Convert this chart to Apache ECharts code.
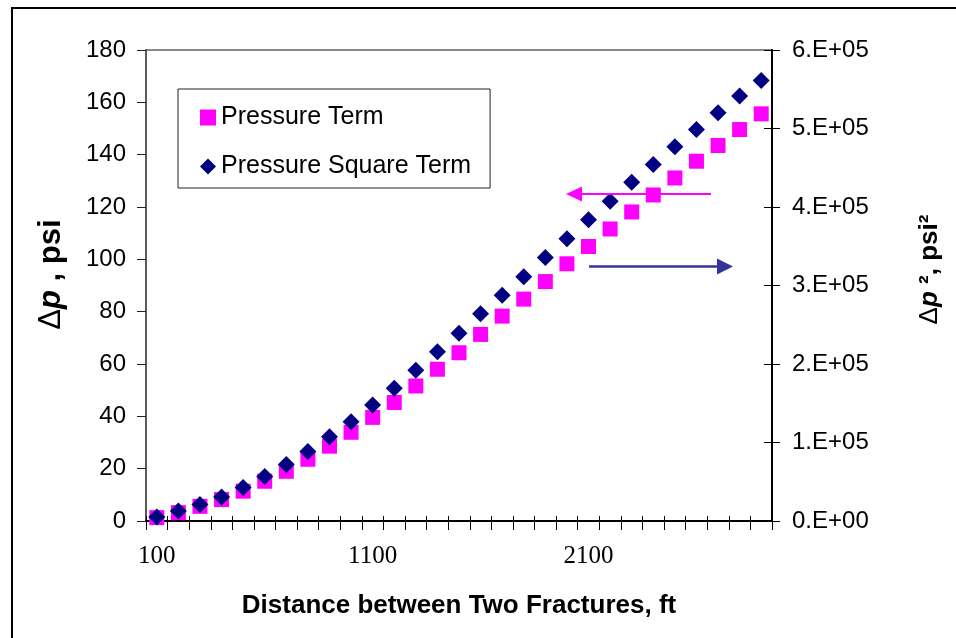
<!DOCTYPE html>
<html>
<head>
<meta charset="utf-8">
<script src="https://cdn.jsdelivr.net/npm/echarts@6/dist/echarts.min.js"></script>
<style>
  html, body { margin: 0; padding: 0; background: #fff; }
  #chart { width: 956px; height: 638px; }
</style>
</head>
<body>
<div id="chart"></div>
<script>
// Distance between the two fractures, ft (category axis)
const distances = [100, 200, 300, 400, 500, 600, 700, 800, 900, 1000,
                   1100, 1200, 1300, 1400, 1500, 1600, 1700, 1800, 1900, 2000,
                   2100, 2200, 2300, 2400, 2500, 2600, 2700, 2800, 2900];

// Δp, psi (left axis)
const pressureTerm = [1.3, 3.2, 5.6, 8.2, 11.4, 15.2, 19.0, 23.6, 28.6, 33.9,
                      39.6, 45.3, 51.6, 58.0, 64.3, 71.3, 78.3, 84.8, 91.5, 98.3,
                      104.9, 111.6, 118.1, 124.6, 131.1, 137.5, 143.5, 149.6, 155.6];

// Δp², psi² (right axis)
const pressureSquareTerm = [5100, 12800, 20900, 30600, 42600, 56700, 72000, 88600, 107200, 126400,
                            147700, 169000, 192000, 215700, 239200, 263900, 287700, 311100, 335700, 359600,
                            383900, 407200, 431500, 454100, 476700, 498800, 520100, 541300, 561300];

const seriesNames = ['Pressure Term', 'Pressure Square Term'];

const SANS = 'Liberation Sans';
const SERIF = 'Liberation Serif';

// Excel-style scientific labels: 0.E+00, 1.E+05 ...
function sciLabel(v) {
  if (v === 0) return '0.E+00';
  const exp = Math.floor(Math.log10(Math.abs(v)));
  const mant = Math.round(v / Math.pow(10, exp));
  return mant + '.E+' + String(exp).padStart(2, '0');
}

const chart = echarts.init(document.getElementById('chart'), null, { renderer: 'canvas' });

const gridBox = { left: 146, right: 184, top: 50, bottom: 117 };

chart.setOption({
  animation: false,
  backgroundColor: '#fff',
  grid: {
    left: gridBox.left, right: gridBox.right, top: gridBox.top, bottom: gridBox.bottom,
    show: true, borderColor: '#8a8a8a', borderWidth: 2, backgroundColor: 'transparent'
  },
  legend: {
    data: [
      { name: seriesNames[0], icon: 'rect' },
      { name: seriesNames[1], icon: 'diamond' }
    ],
    orient: 'vertical',
    left: 178, top: 89,
    padding: [16, 19, 9, 22],
    itemGap: 24,
    itemWidth: 16, itemHeight: 16,
    borderColor: '#222', borderWidth: 1,
    backgroundColor: '#fff',
    textStyle: { fontFamily: SANS, fontSize: 25, color: '#000' }
  },
  xAxis: [
    {
      type: 'category',
      data: distances,
      boundaryGap: true,
      position: 'bottom',
      name: 'Distance between Two Fractures, ft',
      nameLocation: 'middle',
      nameGap: 72,
      nameTextStyle: { fontFamily: SANS, fontSize: 26, fontWeight: 'bold', color: '#000' },
      axisLine: { show: true, lineStyle: { color: '#000', width: 2 } },
      axisTick: { show: true, interval: 0, length: 9, lineStyle: { color: '#000', width: 1 } },
      axisLabel: { interval: 9, margin: 23, fontFamily: SERIF, fontSize: 25, color: '#000' },
      splitLine: { show: false }
    },
    {
      // inner half of the crossing tick marks
      type: 'category',
      data: distances,
      boundaryGap: true,
      position: 'bottom',
      axisLine: { show: false },
      axisTick: { show: true, inside: true, interval: 0, length: 5, lineStyle: { color: '#000', width: 1 } },
      axisLabel: { show: false },
      splitLine: { show: false }
    }
  ],
  yAxis: [
    {
      type: 'value',
      position: 'left',
      min: 0, max: 180, interval: 20,
      name: '{d|Δ}{p|p}{b| , psi}',
      nameLocation: 'middle',
      nameRotate: 90,
      nameGap: 79,
      nameTextStyle: {
        fontFamily: SANS, fontSize: 31, color: '#000',
        padding: [0, 0, 0, 22],
        rich: {
          d: { fontFamily: SANS, fontSize: 31, fontWeight: 'normal', color: '#000' },
          p: { fontFamily: SANS, fontSize: 31, fontWeight: 'bold', fontStyle: 'italic', color: '#000' },
          b: { fontFamily: SANS, fontSize: 31, fontWeight: 'bold', color: '#000' }
        }
      },
      axisLine: { show: true, lineStyle: { color: '#5a5a5a', width: 2 } },
      axisTick: { show: true, length: 9, lineStyle: { color: '#222', width: 1 } },
      axisLabel: { margin: 20, fontFamily: SANS, fontSize: 24, color: '#000' },
      splitLine: { show: false }
    },
    {
      type: 'value',
      position: 'right',
      min: 0, max: 600000, interval: 100000,
      name: '{d|Δ}{p|p}{b| ², psi²}',
      nameLocation: 'middle',
      nameRotate: 90,
      nameGap: 145,
      nameTextStyle: {
        fontFamily: SANS, fontSize: 26, color: '#000',
        padding: [0, 0, 0, 32],
        rich: {
          d: { fontFamily: SANS, fontSize: 26, fontWeight: 'normal', color: '#000' },
          p: { fontFamily: SANS, fontSize: 26, fontWeight: 'bold', fontStyle: 'italic', color: '#000' },
          b: { fontFamily: SANS, fontSize: 26, fontWeight: 'bold', color: '#000' }
        }
      },
      axisLine: { show: true, lineStyle: { color: '#000', width: 2 } },
      axisTick: { show: true, length: 8, lineStyle: { color: '#000', width: 1 } },
      axisLabel: { margin: 20, fontFamily: SANS, fontSize: 24, color: '#000', formatter: sciLabel },
      splitLine: { show: false }
    },
    {
      // inner half of the crossing tick marks on the right axis
      type: 'value',
      position: 'right',
      min: 0, max: 600000, interval: 100000,
      axisLine: { show: false },
      axisTick: { show: true, inside: true, length: 8, lineStyle: { color: '#000', width: 1 } },
      axisLabel: { show: false },
      splitLine: { show: false }
    }
  ],
  series: [
    {
      name: seriesNames[0],
      type: 'scatter',
      xAxisIndex: 0,
      yAxisIndex: 0,
      symbol: 'rect',
      symbolSize: 15,
      itemStyle: { color: '#FF00FF', opacity: 1 },
      data: pressureTerm,
      z: 2
    },
    {
      name: seriesNames[1],
      type: 'scatter',
      xAxisIndex: 0,
      yAxisIndex: 1,
      symbol: 'diamond',
      symbolSize: 17,
      itemStyle: { color: '#000080', opacity: 1 },
      data: pressureSquareTerm,
      z: 3
    }
  ],
  graphic: [
    // outer frame
    {
      type: 'rect', z: 0, silent: true,
      shape: { x: 12, y: 8, width: 1000, height: 700 },
      style: { fill: 'none', stroke: '#000', lineWidth: 2 }
    },
    // arrow pointing to the left axis (Pressure Term)
    {
      type: 'line', z: 10, silent: true,
      shape: { x1: 711, y1: 194, x2: 580, y2: 194 },
      style: { stroke: '#FF00FF', lineWidth: 2 }
    },
    {
      type: 'polygon', z: 10, silent: true,
      shape: { points: [[566, 194], [582, 186.5], [582, 201.5]] },
      style: { fill: '#FF00FF' }
    },
    // arrow pointing to the right axis (Pressure Square Term)
    {
      type: 'line', z: 10, silent: true,
      shape: { x1: 589, y1: 266.5, x2: 720, y2: 266.5 },
      style: { stroke: '#333399', lineWidth: 2.5 }
    },
    {
      type: 'polygon', z: 10, silent: true,
      shape: { points: [[733, 266.5], [717, 258.5], [717, 274.5]] },
      style: { fill: '#333399' }
    }
  ]
});
</script>
</body>
</html>
